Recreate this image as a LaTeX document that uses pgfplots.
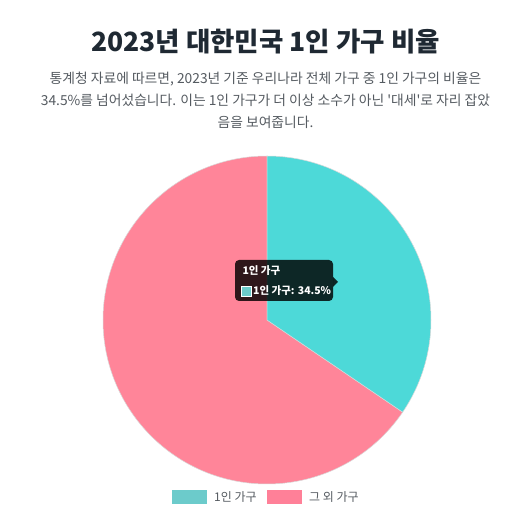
\documentclass[border=0pt]{standalone}
\usepackage{pgfplots}
\pgfplotsset{compat=1.18}
\usepackage{fontspec}
\setmainfont{Noto Sans CJK KR}

\definecolor{titlecol}{HTML}{1F2933}
\definecolor{subcol}{HTML}{555B61}
\definecolor{pieA}{HTML}{4DD9D8}
\definecolor{pieB}{HTML}{FF8599}
\definecolor{legA}{HTML}{6CCBCB}
\definecolor{legB}{HTML}{FF8098}

% share of households (%)
\def\vA{34.5}  % 1인 가구
\def\vB{65.5}  % 그 외 가구

\begin{document}
\begin{tikzpicture}[x=1pt,y=1pt]
\useasboundingbox[fill=white] (0,0) rectangle (531,528);

% title and text
\node[font=\fontsize{26.5}{30}\selectfont\bfseries, text=titlecol] at (265.5,486) {2023년 대한민국 1인 가구 비율};
\node[font=\fontsize{13.8}{22}\selectfont, text=subcol, align=center] at (265.5,428)
  {통계청 자료에 따르면, 2023년 기준 우리나라 전체 가구 중 1인 가구의 비율은\\
   34.5\%를 넘어섰습니다. 이는 1인 가구가 더 이상 소수가 아닌 \textquotesingle 대세\textquotesingle 로 자리 잡았\\
   음을 보여줍니다.};

\begin{axis}[
  at={(267pt,208pt)}, anchor=origin,
  x=164pt, y=164pt,
  xmin=-1, xmax=1, ymin=-1, ymax=1,
  hide axis, clip=false,
]
\addplot[draw=none] coordinates {(0,0)};
\fill[pieB, draw=white!85!black, line width=0.5pt] (axis cs:0,0) -- (axis cs:0,1)
  arc[start angle=90, end angle={90+\vB*3.6}, radius=164pt] -- cycle;
\fill[pieA, draw=white!85!black, line width=0.5pt] (axis cs:0,0) -- (axis cs:0,1)
  arc[start angle=90, end angle={90-\vA*3.6}, radius=164pt] -- cycle;
\end{axis}

% tooltip
\fill[black, opacity=0.82, rounded corners=4pt] (235,227) rectangle (333,268);
\fill[black, opacity=0.82] (333,251) -- (338,246) -- (333,241) -- cycle;
\node[anchor=base west, font=\fontsize{10.5}{12}\selectfont\bfseries, text=white] at (239,253) {1인 가구};
\draw[white, line width=0.8pt, fill=legA] (241,232) rectangle (251,242);
\node[anchor=base west, font=\fontsize{10.5}{12}\selectfont\bfseries, text=white, inner sep=0pt] at (253,233) {1인 가구: 34.5\%};

% legend
\fill[legA] (172,24) rectangle (207,38);
\node[anchor=west, font=\fontsize{12}{14}\selectfont, text=subcol, inner sep=0pt] at (214,31) {1인 가구};
\fill[legB] (267,24) rectangle (302,38);
\node[anchor=west, font=\fontsize{12}{14}\selectfont, text=subcol, inner sep=0pt] at (309,31) {그 외 가구};
\end{tikzpicture}
\end{document}
